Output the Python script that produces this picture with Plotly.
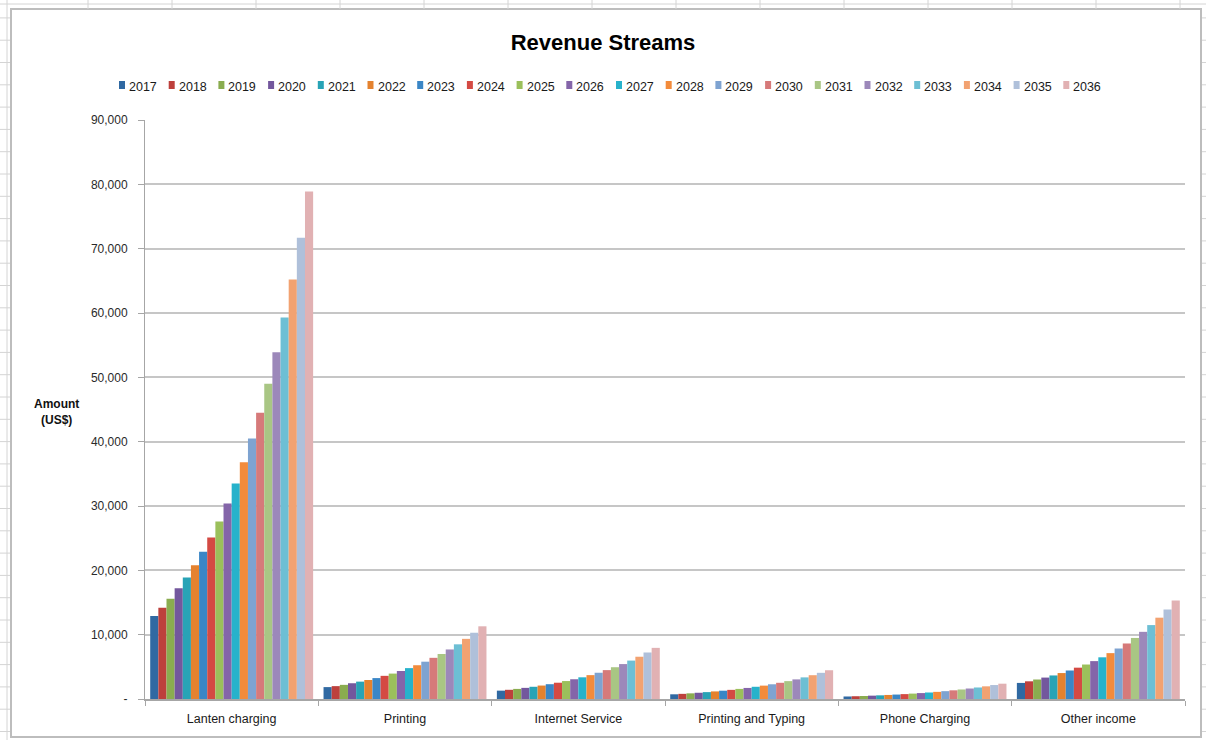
import plotly.graph_objects as go

# Revenue streams by category, 2017-2036 (US$)
years = [str(y) for y in range(2017, 2037)]
categories = ["Lanten charging", "Printing", "Internet Service",
              "Printing and Typing", "Phone Charging", "Other income"]

lanten_charging = [12900, 14200, 15600, 17200, 18900, 20800, 22900, 25100, 27600, 30400,
                   33500, 36800, 40500, 44500, 49000, 53900, 59300, 65200, 71700, 78900]
printing = [1850, 2000, 2200, 2450, 2700, 2950, 3250, 3600, 3950, 4350,
            4800, 5250, 5800, 6400, 7000, 7700, 8500, 9350, 10300, 11300]
internet_service = [1300, 1430, 1570, 1730, 1900, 2090, 2300, 2530, 2790, 3070,
                    3370, 3710, 4080, 4490, 4940, 5430, 5970, 6570, 7230, 7950]
printing_typing = [730, 800, 880, 970, 1070, 1180, 1290, 1420, 1570, 1720,
                   1900, 2080, 2290, 2520, 2780, 3050, 3360, 3700, 4070, 4470]
phone_charging = [390, 430, 470, 520, 570, 630, 690, 760, 840, 920,
                  1010, 1110, 1220, 1350, 1480, 1630, 1790, 1970, 2170, 2380]
other_income = [2500, 2750, 3030, 3330, 3660, 4030, 4430, 4870, 5360, 5890,
                6480, 7130, 7850, 8630, 9490, 10440, 11490, 12640, 13900, 15300]

series_by_category = [lanten_charging, printing, internet_service,
                      printing_typing, phone_charging, other_income]

year_colors = ["#3069a2", "#bd403c", "#8aac4f", "#73579d", "#28a3b6", "#e4822f",
               "#3a86c6", "#d44a43", "#9bc05b", "#8465a9", "#27b2cb", "#f38b3b",
               "#7ea3d1", "#d67a7a", "#a9c684", "#9c88ba", "#6dbfd4", "#f2a271",
               "#afc0da", "#e1b1b3"]

W, H = 1206, 740
ML, MR, MT, MB = 145, 21, 120, 41
PW, PH = W - ML - MR, H - MT - MB


def px(x):
    return (x - ML) / PW


def py(y):
    return (H - MB - y) / PH


FONT = "Liberation Sans, Arial, sans-serif"
NARROW = "Liberation Sans Narrow, Arial Narrow, Liberation Sans, Arial, sans-serif"

fig = go.Figure()
for i, yr in enumerate(years):
    fig.add_trace(go.Bar(
        name=yr,
        x=categories,
        y=[vals[i] for vals in series_by_category],
        marker=dict(color=year_colors[i], line=dict(width=0)),
        showlegend=False,
    ))

shapes = []
annotations = []

# spreadsheet cell lines around the chart frame
grid_col = "#d4d4d4"
shapes.append(dict(type="line", xref="paper", yref="paper",
                   x0=px(0), x1=px(W), y0=py(4), y1=py(4),
                   line=dict(color=grid_col, width=1)))
shapes.append(dict(type="line", xref="paper", yref="paper",
                   x0=px(7), x1=px(7), y0=py(0), y1=py(H),
                   line=dict(color=grid_col, width=1)))
xv = 88
while xv < W:
    shapes.append(dict(type="line", xref="paper", yref="paper",
                       x0=px(xv), x1=px(xv), y0=py(0), y1=py(9),
                       line=dict(color=grid_col, width=1)))
    xv += 84
yv = 620 - 22.3 * 27
while yv < H:
    if yv > 9:
        shapes.append(dict(type="line", xref="paper", yref="paper",
                           x0=px(0), x1=px(10), y0=py(yv), y1=py(yv),
                           line=dict(color=grid_col, width=1)))
        shapes.append(dict(type="line", xref="paper", yref="paper",
                           x0=px(1202), x1=px(W), y0=py(yv), y1=py(yv),
                           line=dict(color=grid_col, width=1)))
    yv += 22.3

# chart frame
shapes.append(dict(type="rect", xref="paper", yref="paper",
                   x0=px(11), x1=px(1201), y0=py(737), y1=py(9),
                   line=dict(color="#bdbdbd", width=2), fillcolor="rgba(0,0,0,0)",
                   layer="below"))

# legend: small squares with year labels
lx0, lstep, ly = 119, 49.7, 87
for i, yr in enumerate(years):
    x = lx0 + i * lstep
    shapes.append(dict(type="rect", xref="paper", yref="paper",
                       x0=px(x), x1=px(x + 6), y0=py(ly + 2), y1=py(ly - 6),
                       fillcolor=year_colors[i], line=dict(width=0)))
    annotations.append(dict(xref="paper", yref="paper", x=px(x + 8), y=py(ly),
                            text=yr, showarrow=False, xanchor="left", yanchor="middle",
                            font=dict(family=FONT, size=12.5, color="#1a1a1a")))

# y-axis title
annotations.append(dict(xref="paper", yref="paper", x=px(56), y=py(412),
                        text="<b>Amount<br>(US$)</b>", showarrow=False,
                        xanchor="center", yanchor="middle", align="center",
                        font=dict(family=FONT, size=12, color="#111111")))

tick_vals = list(range(0, 90001, 10000))
tick_text = ["-"] + [f"{v:,}" for v in tick_vals[1:]]

fig.update_layout(
    width=W, height=H,
    margin=dict(l=ML, r=MR, t=MT, b=MB, pad=0),
    paper_bgcolor="white", plot_bgcolor="white",
    barmode="group", bargap=0.06, bargroupgap=0,
    title=dict(text="<b>Revenue Streams</b>", x=0.5, xanchor="center",
               y=1 - 42 / H, yanchor="middle",
               font=dict(family=NARROW, size=22, color="#000000")),
    shapes=shapes, annotations=annotations,
    showlegend=False,
    xaxis=dict(
        showgrid=False, showline=True, linecolor="#a6a6a6", linewidth=2,
        ticks="outside", tickson="boundaries", ticklen=5, tickcolor="#a6a6a6",
        tickwidth=1, ticklabelstandoff=7,
        tickfont=dict(family=FONT, size=12.5, color="#1a1a1a"),
    ),
    yaxis=dict(
        range=[0, 90000], tickvals=tick_vals, ticktext=tick_text,
        showgrid=True, gridcolor="#c6c6c6", gridwidth=2,
        showline=True, linecolor="#a6a6a6", linewidth=1,
        ticks="outside", ticklen=6, tickcolor="#a6a6a6", tickwidth=1,
        ticklabelstandoff=8,
        tickfont=dict(family=FONT, size=12, color="#2a2a2a"),
        zeroline=False,
    ),
)

fig.write_html("out.html")
